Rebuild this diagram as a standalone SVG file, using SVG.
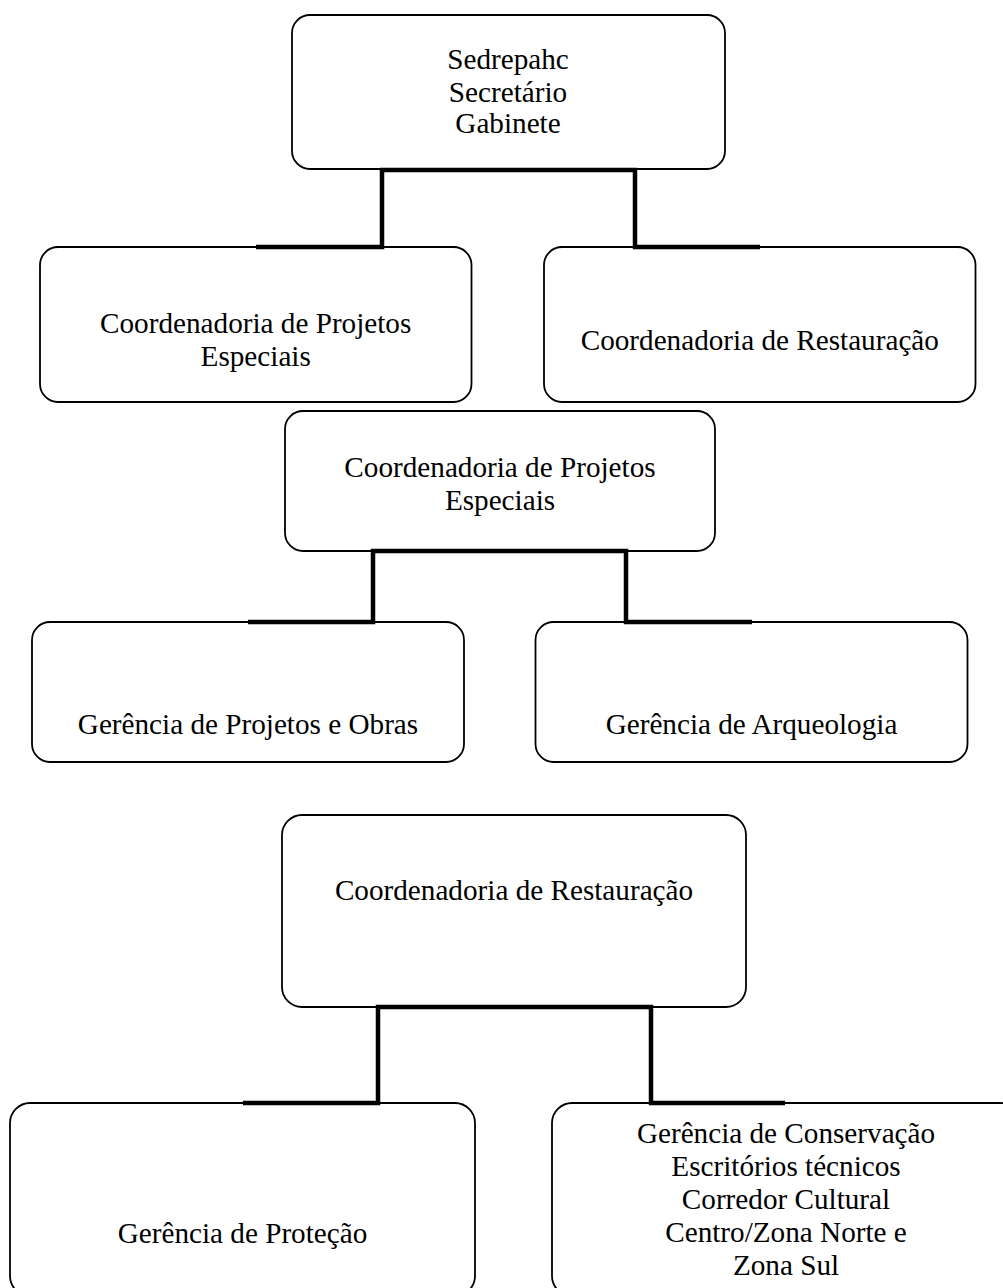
<svg xmlns="http://www.w3.org/2000/svg" width="1003" height="1288" viewBox="0 0 1003 1288">
<style>
.box{fill:#fff;stroke:#000;stroke-width:1.8}
.t{font-family:"Liberation Serif","Times New Roman",serif;font-size:29.2px;fill:#000;text-anchor:middle}
.c{fill:none;stroke:#000;stroke-width:4.5;stroke-linejoin:miter;stroke-linecap:butt}
</style>
<rect width="1003" height="1288" fill="#fff"/>
<g id="n-sedrepahc">
<rect class="box" x="292" y="15" width="433" height="154" rx="18"/>
<text class="t" x="508" y="69.3">Sedrepahc</text>
<text class="t" x="508" y="101.7">Secretário</text>
<text class="t" x="508" y="133.3">Gabinete</text>
</g>
<g id="n-cpe1">
<rect class="box" x="40" y="247" width="431.5" height="155" rx="18"/>
<text class="t" x="255.7" y="333">Coordenadoria de Projetos</text>
<text class="t" x="255.7" y="366">Especiais</text>
</g>
<g id="n-cr1">
<rect class="box" x="544" y="247" width="431.5" height="155" rx="18"/>
<text class="t" x="759.8" y="350">Coordenadoria de Restauração</text>
</g>
<g id="n-cpe2">
<rect class="box" x="285" y="411" width="430" height="140" rx="18"/>
<text class="t" x="500" y="477">Coordenadoria de Projetos</text>
<text class="t" x="500" y="510">Especiais</text>
</g>
<g id="n-gpo">
<rect class="box" x="32" y="622" width="432" height="140" rx="18"/>
<text class="t" x="248" y="734">Gerência de Projetos e Obras</text>
</g>
<g id="n-ga">
<rect class="box" x="535.5" y="622" width="432" height="140" rx="18"/>
<text class="t" x="751.5" y="734">Gerência de Arqueologia</text>
</g>
<g id="n-cr2">
<rect class="box" x="282" y="815" width="464" height="192" rx="20"/>
<text class="t" x="514" y="900">Coordenadoria de Restauração</text>
</g>
<g id="n-gp">
<rect class="box" x="10" y="1103" width="465" height="193" rx="20"/>
<text class="t" x="242.5" y="1243">Gerência de Proteção</text>
</g>
<g id="n-gc">
<rect class="box" x="552" y="1103" width="468" height="193" rx="20"/>
<text class="t" x="786" y="1143">Gerência de Conservação</text>
<text class="t" x="786" y="1176">Escritórios técnicos</text>
<text class="t" x="786" y="1209">Corredor Cultural</text>
<text class="t" x="786" y="1242">Centro/Zona Norte e</text>
<text class="t" x="786" y="1275">Zona Sul</text>
</g>
<g id="connectors">
<path class="c" d="M256 247H382V170H635V247H760"/>
<path class="c" d="M248 622H373V551H626V622H752"/>
<path class="c" d="M243 1103H378V1007H651V1103H785"/>
</g>
</svg>
